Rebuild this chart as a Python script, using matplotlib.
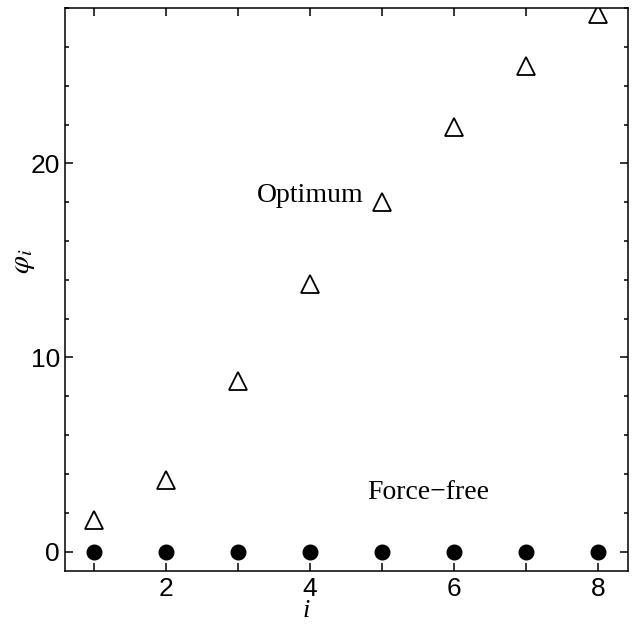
import numpy as np
import matplotlib
matplotlib.use("Agg")
import matplotlib.pyplot as plt
from matplotlib.ticker import MultipleLocator

# ── Data ────────────────────────────────────────────────────
i_vals        = [1, 2, 3, 4, 5, 6, 7, 8]
phi_optimum   = [1.65, 3.67, 8.8, 13.8, 18.0, 21.9, 25.0, 27.7]
phi_forcefree = [0, 0, 0, 0, 0, 0, 0, 0]
x_ticks       = [2, 4, 6, 8]
y_ticks       = [0, 10, 20]

plt.rcParams["mathtext.fontset"] = "stix"
plt.rcParams["font.family"] = "Liberation Sans"

fig = plt.figure(figsize=(6.43, 6.24), dpi=100)
ax = fig.add_axes([0.101, 0.085, 0.876, 0.902])

ax.plot(i_vals, phi_optimum, linestyle="none", marker="^", markersize=13,
        markerfacecolor="white", markeredgecolor="black", markeredgewidth=1.3)
ax.plot(i_vals, phi_forcefree, linestyle="none", marker="o", markersize=10.5,
        markerfacecolor="black", markeredgecolor="black")

ax.text(4.0, 18.0, "Optimum", family="Liberation Serif", fontsize=20,
        ha="center", va="baseline")
ax.text(5.64, 2.73, "Force\u2212free", family="Liberation Serif", fontsize=20,
        ha="center", va="baseline")

ax.set_xlim(0.6, 8.42)
ax.set_ylim(-1, 28)
ax.set_xticks(x_ticks)
ax.xaxis.set_minor_locator(MultipleLocator(1))
ax.set_yticks(y_ticks)
ax.yaxis.set_minor_locator(MultipleLocator(2))

ax.tick_params(which="both", direction="in", top=True, right=True,
               labelsize=19, width=1.1)
ax.tick_params(which="major", length=6)
ax.tick_params(which="minor", length=3)
ax.tick_params(axis="x", which="minor", length=6)
ax.tick_params(axis="x", pad=4)
for s in ax.spines.values():
    s.set_linewidth(1.1)

ax.set_xlabel("i", family="Liberation Serif", style="italic", fontsize=19)
ax.set_ylabel(r"$\varphi_i$", fontsize=21)
ax.xaxis.set_label_coords(0.428, -0.052)
ax.yaxis.set_label_coords(-0.05, 0.55)

fig.savefig("out.png", dpi=100)
